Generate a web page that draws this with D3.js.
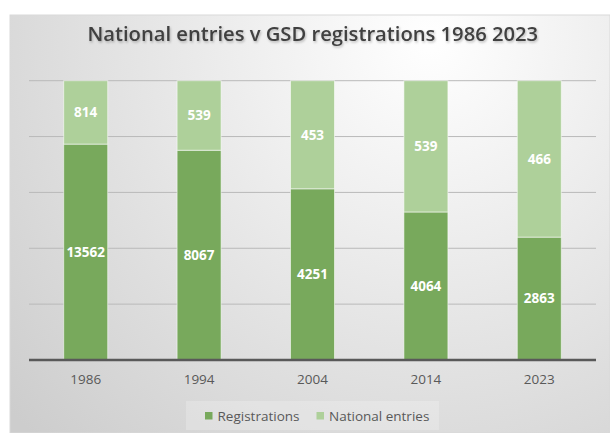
<!DOCTYPE html>
<html>
<head>
<meta charset="utf-8">
<script src="https://cdn.jsdelivr.net/npm/d3@7"></script>
<style>
  html, body { margin: 0; padding: 0; background: #fff; }
  svg { display: block; font-family: "Open Sans", "Liberation Sans", sans-serif; }
</style>
</head>
<body>
<svg width="610" height="433"></svg>
<script>
const years = ['1986', '1994', '2004', '2014', '2023'];
// numbers written on the bars
const registrations = [13562, 8067, 4251, 4064, 2863];
const nationalEntries = [814, 539, 453, 539, 466];
// share of each column as drawn (percent of full height)
const registrationsShare = [77.3, 75.1, 61.3, 53.0, 44.0];
const nationalShare = [22.7, 24.9, 38.7, 47.0, 56.0];
const yTicks = [0, 20, 40, 60, 80, 100];
const seriesNames = ['Registrations', 'National entries'];
const colors = ['#78a95c', '#aed09a'];

const svg = d3.select('svg');
const defs = svg.append('defs');

const grad = defs.append('radialGradient')
  .attr('id', 'bg')
  .attr('gradientUnits', 'userSpaceOnUse')
  .attr('cx', 430).attr('cy', 40).attr('r', 560);
grad.append('stop').attr('offset', '0%').attr('stop-color', '#ffffff');
grad.append('stop').attr('offset', '100%').attr('stop-color', '#cdcdcd');

const shadow = defs.append('filter').attr('id', 'tshadow')
  .attr('x', '-5%').attr('y', '-20%').attr('width', '110%').attr('height', '150%');
shadow.append('feDropShadow')
  .attr('dx', 1).attr('dy', 1.5).attr('stdDeviation', 1)
  .attr('flood-color', '#000').attr('flood-opacity', 0.25);

// chart area
svg.append('rect')
  .attr('x', 10).attr('y', 15).attr('width', 600).attr('height', 418)
  .attr('fill', 'url(#bg)')
  .attr('stroke', '#d9d9d9').attr('stroke-width', 1);

const title = svg.append('text')
  .attr('x', 312.8).attr('y', 41)
  .attr('text-anchor', 'middle')
  .attr('fill', '#404040')
  .attr('font-weight', 600)
  .attr('font-size', 20)
  .attr('filter', 'url(#tshadow)')
  .text('National entries v GSD registrations 1986 2023');
// fit title width to the reference
const tw = title.node().getComputedTextLength();
title.attr('font-size', 20 * 451 / tw);

const x = d3.scaleBand()
  .domain(years)
  .range([29, 596])
  .paddingInner(0.612)
  .paddingOuter(0.306);

const y = d3.scaleLinear().domain([0, 100]).range([360, 80.7]);

// gridlines
svg.append('g')
  .selectAll('line')
  .data(yTicks.filter(d => d > 0))
  .enter()
  .append('line')
  .attr('x1', 29).attr('x2', 596)
  .attr('y1', d => y(d)).attr('y2', d => y(d))
  .attr('stroke', '#b9b9b9').attr('stroke-width', 1);

const table = years.map((yr, i) => ({
  year: yr,
  Registrations: registrationsShare[i],
  'National entries': nationalShare[i],
  labels: [registrations[i], nationalEntries[i]]
}));

const stacked = d3.stack().keys(seriesNames)(table);

const groups = svg.append('g')
  .selectAll('g')
  .data(stacked)
  .enter()
  .append('g')
  .attr('fill', (d, i) => colors[i]);

groups.selectAll('rect')
  .data(d => d)
  .enter()
  .append('rect')
  .attr('x', d => x(d.data.year))
  .attr('width', x.bandwidth())
  .attr('y', d => y(d[1]))
  .attr('height', d => y(d[0]) - y(d[1]))
  .attr('stroke', 'rgba(255,255,255,0.55)')
  .attr('stroke-width', 1);

groups.each(function(s, si) {
  d3.select(this).selectAll('text')
    .data(s)
    .enter()
    .append('text')
    .attr('x', d => x(d.data.year) + x.bandwidth() / 2)
    .attr('y', d => (y(d[0]) + y(d[1])) / 2)
    .attr('dy', '0.36em')
    .attr('text-anchor', 'middle')
    .attr('fill', '#ffffff')
    .attr('font-weight', 700)
    .attr('font-size', 13.5)
    .text(d => d.data.labels[si]);
});

// x axis
const xAxis = svg.append('g')
  .attr('transform', 'translate(0,360)')
  .call(d3.axisBottom(x).tickSize(0).tickPadding(14));
xAxis.select('.domain').attr('stroke', '#595959').attr('stroke-width', 2.5);
xAxis.selectAll('text')
  .attr('fill', '#595959')
  .attr('font-size', 13.5)
  .attr('font-family', '"Open Sans", sans-serif');
xAxis.select('.domain').attr('d', 'M29,0H596');

// legend
svg.append('rect')
  .attr('x', 186).attr('y', 401).attr('width', 253).attr('height', 29)
  .attr('fill', 'rgba(255,255,255,0.22)');

const legend = svg.append('g');
const legendX = [205, 316.5];
seriesNames.forEach((name, i) => {
  legend.append('rect')
    .attr('x', legendX[i]).attr('y', 412)
    .attr('width', 7.5).attr('height', 7.5)
    .attr('fill', colors[i]);
  legend.append('text')
    .attr('x', legendX[i] + 12.5).attr('y', 415.8)
    .attr('dy', '0.36em')
    .attr('fill', '#595959')
    .attr('font-size', 13.5)
    .text(name);
});
</script>
</body>
</html>
